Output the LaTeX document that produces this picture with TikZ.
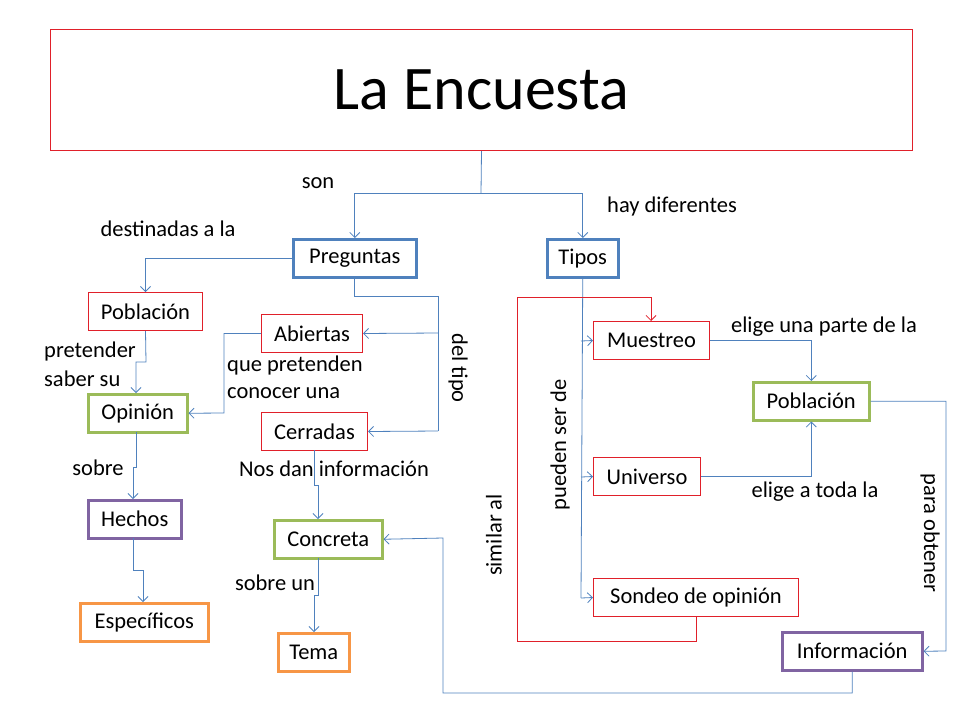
\documentclass[tikz,border=0pt]{standalone}
\usepackage{fontspec}
\setmainfont{Carlito}
\usetikzlibrary{arrows.meta}
\definecolor{ublue}{HTML}{4F81BD}
\definecolor{ured}{HTML}{E0202A}
\definecolor{ugreen}{HTML}{9BBB59}
\definecolor{upurple}{HTML}{8064A2}
\definecolor{uorange}{HTML}{F79646}
\tikzset{x=1pt,y=-1pt,
 box/.style={draw,minimum height=38pt,inner sep=0pt,font=\fontsize{22.5}{26}\selectfont,anchor=north west},
 bluebox/.style={box,draw=ublue,line width=2.5pt},
 redbox/.style={box,draw=ured,line width=1pt},
 greenbox/.style={box,draw=ugreen,line width=2.5pt},
 purplebox/.style={box,draw=upurple,line width=2.5pt},
 orangebox/.style={box,draw=uorange,line width=2.5pt},
 con/.style={draw=ublue,line width=0.8pt},
 arr/.style={con,-{Straight Barb[length=5pt,width=10pt]}},
 rarr/.style={draw=ured,line width=0.8pt,-{Straight Barb[length=5pt,width=10pt]}},
 lbl/.style={font=\fontsize{22.5}{26}\selectfont,inner sep=0pt}}
\begin{document}
\begin{tikzpicture}
\useasboundingbox (0,0) rectangle (960,720);
\node[draw=ured,line width=1pt,minimum width=862pt,minimum height=121pt,anchor=north west,inner sep=0pt,font=\fontsize{62}{68}\selectfont] (title) at (50,29) {La Encuesta};
\node[bluebox,minimum width=123pt] (preg) at (292,238) {Preguntas};
\node[bluebox,minimum width=71pt] (tipos) at (546,238) {Tipos};
\node[redbox,minimum width=114pt] (pobl) at (88,292) {Población};
\node[redbox,minimum width=101pt] (abier) at (261,314) {Abiertas};
\node[greenbox,minimum width=99pt] (opin) at (87,393) {Opinión};
\node[redbox,minimum width=106pt] (cerr) at (261,412) {Cerradas};
\node[purplebox,minimum width=93pt] (hech) at (87,499) {Hechos};
\node[greenbox,minimum width=108pt] (conc) at (273,519) {Concreta};
\node[orangebox,minimum width=128pt] (espe) at (79,602) {Específicos};
\node[orangebox,minimum width=71pt] (tema) at (277,632) {Tema};
\node[redbox,minimum width=116pt] (mues) at (593,321) {Muestreo};
\node[greenbox,minimum width=116pt] (poblr) at (752,381) {Población};
\node[redbox,minimum width=107pt] (univ) at (593,457) {Universo};
\node[redbox,minimum width=205pt] (sond) at (593,578) {Sondeo de opinión};
\node[purplebox,minimum width=140pt] (info) at (781,631) {Información};
% connectors
\draw[con] (title.south) -- (481,193) coordinate (t1);
\draw[arr] (t1) -| (preg.north);
\draw[arr] (t1) -| (tipos.north);
\draw[arr] (preg.west) -| (pobl.north);
\draw[con] (preg.south) |- (438,296) coordinate (p1) -- (438,431) coordinate (p2);
\draw[arr] (438,333) -- (abier.east);
\draw[arr] (p2) -- (cerr.east);
\draw[arr] (pobl.south) -- (146,362) -- (136,362) -- (136,393);
\draw[arr] (abier.west) -| (224,413) -- (opin.east);
\draw[arr] (136,432) -- (136,467) -- (133,467) -- (133,499);
\draw[arr] (133,538) -- (133,570) -- (143,570) -- (143,602);
\draw[arr] (314,450) -- (314,485) -- (318,485) -- (318,519);
\draw[arr] (318,558) -- (318,595) -- (314,595) -- (314,632);
\draw[arr] (info.south) |- (443,693) -- (443,538) -- (conc.east);
\draw[con] (tipos.south) -- (581,598) coordinate (tp);
\draw[arr] (581,341) -- (mues.west);
\draw[arr] (581,477) -- (univ.west);
\draw[arr] (tp) -- (sond.west);
\draw[rarr] (696,617) -- (696,641) -- (517,641) -- (517,297) -- (651,297) -- (mues.north -| 651,0);
\draw[arr] (mues.east) -| (poblr.north);
\draw[arr] (univ.east) -| (poblr.south);
\draw[arr] (poblr.east) -| (946,651) -- (info.east);
% labels
\node[lbl] (l1) at (318,183) {son};
\node[lbl] (l2) at (672,206) {hay diferentes};
\node[lbl] (l3) at (168,229) {destinadas a la};
\node[lbl,anchor=west] (l4) at (44,351) {pretender};
\node[lbl,anchor=west] (l5) at (44,379) {saber su};
\node[lbl,anchor=west] (l6) at (227,365) {que pretenden};
\node[lbl,anchor=west] (l7) at (227,393) {conocer una};
\node[lbl,rotate=-90] (l8) at (458,368) {del tipo};
\node[lbl] (l9) at (98,468) {sobre};
\node[lbl] (l10) at (334,469) {Nos dan información};
\node[lbl] (l11) at (275,583) {sobre un};
\node[lbl] (l12) at (824,327) {elige una parte de la};
\node[lbl] (l13) at (815,492) {elige a toda la};
\node[lbl,rotate=90] (l14) at (560,445) {pueden ser de};
\node[lbl,rotate=90] (l15) at (494,535) {similar al};
\node[lbl,rotate=-90] (l16) at (930,533) {para obtener};
\end{tikzpicture}
\end{document}
